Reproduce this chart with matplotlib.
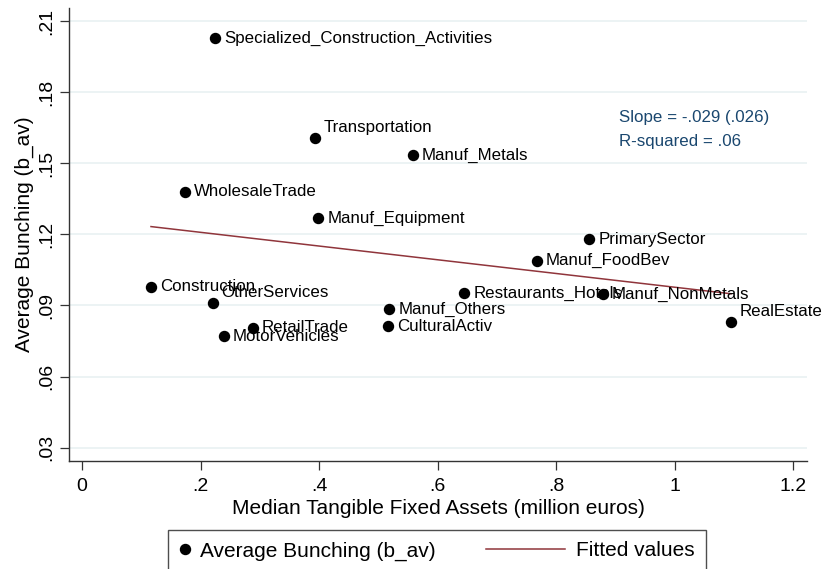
import numpy as np
import matplotlib
matplotlib.use("Agg")
import matplotlib.pyplot as plt
from matplotlib.lines import Line2D
from matplotlib.legend_handler import HandlerLine2D

plt.rcParams['font.family'] = ['Liberation Sans', 'DejaVu Sans']

# ---- data ----
sectors = ["Specialized_Construction_Activities", "Transportation", "Manuf_Metals",
           "WholesaleTrade", "Manuf_Equipment", "PrimarySector", "Manuf_FoodBev",
           "Construction", "OtherServices", "RetailTrade", "MotorVehicles",
           "Manuf_Others", "CulturalActiv", "Restaurants_Hotels", "Manuf_NonMetals",
           "RealEstate"]
median_tfa = [0.2244, 0.393, 0.558, 0.1738, 0.3987, 0.856, 0.7676, 0.1164, 0.221,
              0.288, 0.239, 0.5185, 0.5168, 0.645, 0.8784, 1.095]
avg_bunching = [0.2027, 0.1608, 0.1535, 0.138, 0.1267, 0.118, 0.1089, 0.0979, 0.0911,
                0.0806, 0.077, 0.0883, 0.0813, 0.0951, 0.0947, 0.0831]
label_clock = [3, 2, 3, 3, 3, 3, 3, 3, 2, 3, 3, 3, 3, 3, 3, 2]
x_ticks = [0, 0.2, 0.4, 0.6, 0.8, 1.0, 1.2]
x_ticklabels = ["0", ".2", ".4", ".6", ".8", "1", "1.2"]
y_ticks = [0.03, 0.06, 0.09, 0.12, 0.15, 0.18, 0.21]
y_ticklabels = [".03", ".06", ".09", ".12", ".15", ".18", ".21"]
stats_text = ["Slope = -.029 (.026)", "R-squared = .06"]

x = np.array(median_tfa)
y = np.array(avg_bunching)
b, a = np.polyfit(x, y, 1)
xf = np.array([x.min(), x.max()])
yf = a + b * xf

fig = plt.figure(figsize=(8.23, 5.69), dpi=100)
ax = fig.add_axes([69/823, 1-461/569, (807-69)/823, (461-8)/569])

for yt in y_ticks:
    ax.axhline(yt, color="#eaf2f3", lw=1.3, zorder=0)

fit_color = "#90353b"
ax.plot(xf, yf, color=fit_color, lw=1.1, zorder=2)
ax.plot(x, y, 'o', color='black', ms=7.2, zorder=3, linestyle='none')

for xi, yi, name, pos in zip(x, y, sectors, label_clock):
    off = (6.5, 0) if pos == 3 else (6.1, 7.2)
    ax.annotate(name, (xi, yi), xytext=off, textcoords='offset points',
                ha='left', va='center', fontsize=12.2, color='black', zorder=4)

ax.text(0.7457, 0.7587, stats_text[0], transform=ax.transAxes, fontsize=12.2,
        color="#1a476f", ha='left', va='center')
ax.text(0.7457, 0.7049, stats_text[1], transform=ax.transAxes, fontsize=12.2,
        color="#1a476f", ha='left', va='center')

ax.set_xlim(-0.0219, 1.223)
ax.set_ylim(0.02435, 0.2155)
ax.set_xticks(x_ticks)
ax.set_xticklabels(x_ticklabels)
ax.set_yticks(y_ticks)
ax.set_yticklabels(y_ticklabels, rotation=90, va='center')
ax.tick_params(axis='both', labelsize=14, color='#333333', length=6.2, width=0.9, pad=4)
ax.tick_params(axis='x', length=6.5, pad=5.5)
for s in ['top', 'right']:
    ax.spines[s].set_visible(False)
for s in ['left', 'bottom']:
    ax.spines[s].set_color('#333333')
    ax.spines[s].set_linewidth(1.0)

ax.set_xlabel("Median Tangible Fixed Assets (million euros)", fontsize=15, labelpad=3)
ax.set_ylabel("Average Bunching (b_av)", fontsize=15, labelpad=3)


class LongLineHandler(HandlerLine2D):
    def create_artists(self, legend, orig_handle, xdescent, ydescent, width, height, fontsize, trans):
        length = 57.0
        yc = height / 2 - ydescent
        ln = Line2D([width - xdescent - length, width - xdescent], [yc, yc],
                    color=fit_color, lw=1.1, transform=trans)
        return [ln]


h_pts = Line2D([], [], marker='o', color='black', ms=7.2, linestyle='none')
h_fit = Line2D([], [], color=fit_color, lw=1.1)
leg = fig.legend([h_pts, h_fit], ["Average Bunching (b_av)", "Fitted values"],
                 handler_map={h_fit: LongLineHandler()},
                 loc='center', bbox_to_anchor=(437/823, 1-551/569), ncol=2,
                 fontsize=15, frameon=True, fancybox=False, handlelength=0.5,
                 handletextpad=0.5, columnspacing=5.7, borderpad=0.55,
                 borderaxespad=0)
leg.get_frame().set_edgecolor('#222222')
leg.get_frame().set_linewidth(1.0)

fig.savefig("out.png", dpi=100, facecolor='white')
